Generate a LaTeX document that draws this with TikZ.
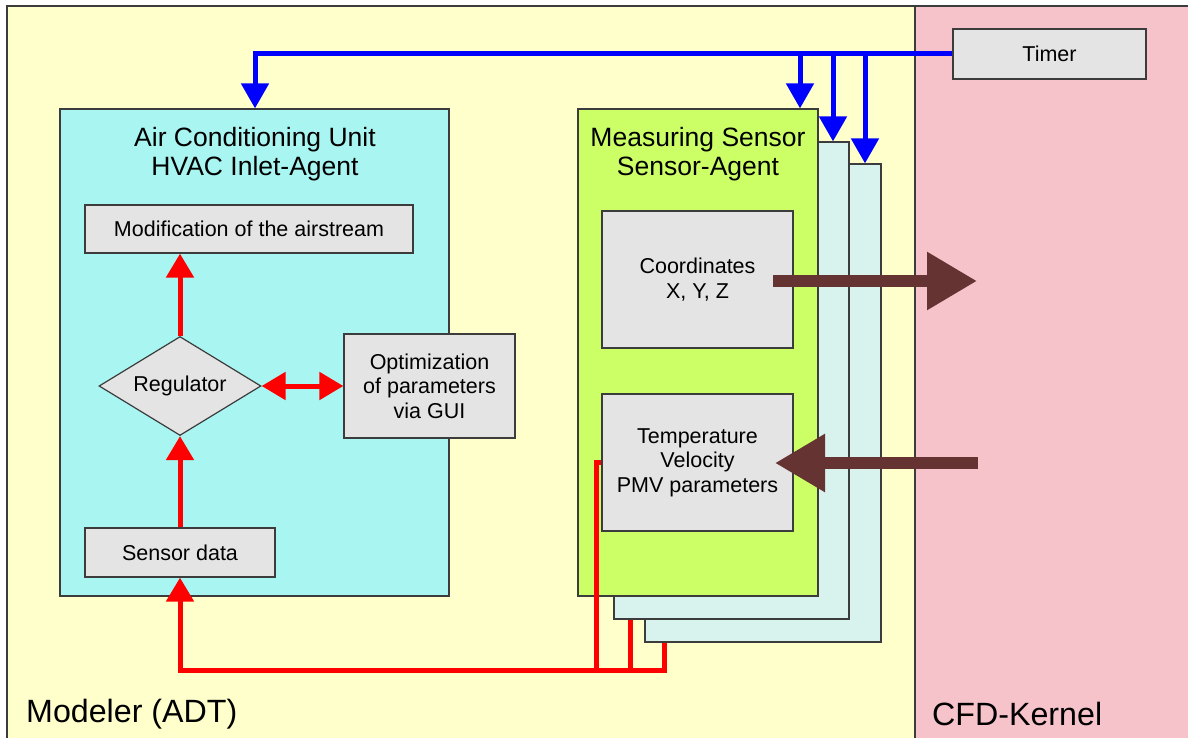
\documentclass[tikz,border=0pt]{standalone}
\usepackage{fontspec}
\setmainfont{Liberation Sans}
\usetikzlibrary{arrows.meta,shapes.geometric}
\definecolor{bgyellow}{HTML}{FFFFCC}
\definecolor{bgpink}{HTML}{F6C3CB}
\definecolor{cyanbox}{HTML}{A8F5F1}
\definecolor{greenbox}{HTML}{CCFF66}
\definecolor{palebox}{HTML}{D8F3EE}
\definecolor{graybox}{HTML}{E4E4E4}
\definecolor{brownarr}{HTML}{663333}
\definecolor{edgegray}{HTML}{3C3C3C}
\begin{document}
\begin{tikzpicture}[x=1pt,y=-1pt,
 box/.style={draw=edgegray,line width=1.2pt,fill=graybox,inner sep=0pt,align=center,font=\fontsize{21.5}{24.5}\selectfont},
 agent/.style={draw=edgegray,line width=1.2pt,inner sep=0pt},
 title/.style={align=center,inner sep=0pt,font=\fontsize{26.5}{29}\selectfont},
 biglabel/.style={anchor=west,inner sep=0pt,font=\fontsize{32.2}{35}\selectfont},
 bluearr/.style={draw=blue,line width=5pt,-{Triangle[length=25pt,width=27pt]}},
 redline/.style={draw=red,line width=5pt},
 redarr/.style={redline,-{Triangle[length=24pt,width=27pt]}},
 redtip/.tip={Triangle[length=24pt,width=27pt]},
 brownarrow/.style={draw=brownarr,line width=12pt,-{Triangle[length=50pt,width=55pt]}},
]
\useasboundingbox (0,0) rectangle (1188,738);
% background regions
\fill[bgyellow] (7,6) rectangle (915,740);
\fill[bgpink] (915,6) rectangle (1190,740);
\draw[edgegray,line width=1.5pt] (7,740) -- (7,6) -- (1190,6);
\draw[edgegray,line width=1.2pt] (915,6) -- (915,740);
\node[biglabel] (modeler) at (26,714) {Modeler (ADT)};
\node[biglabel] (cfd) at (932,714) {CFD-Kernel};

% stacked sensor agents
\node[agent,fill=palebox,minimum width=236pt,minimum height=478pt] (s3) at (763,403) {};
\node[agent,fill=palebox,minimum width=235pt,minimum height=477pt] (s2) at (731.5,380.5) {};
\node[agent,fill=greenbox,minimum width=240pt,minimum height=487pt] (green) at (698,352.5) {};
\node[title] (gtitle) at (698,154) {Measuring Sensor\\Sensor-Agent};

% HVAC agent
\node[agent,fill=cyanbox,minimum width=389pt,minimum height=487pt] (cyan) at (254.5,352.5) {};
\node[title] (ctitle) at (255,154) {Air Conditioning Unit\\HVAC Inlet-Agent};

% inner boxes
\node[box,minimum width=193pt,minimum height=50pt] (timer) at (1049.5,54) {Timer};
\node[box,minimum width=328pt,minimum height=48pt] (mod) at (249,229) {Modification of the airstream};
\node[box,shape=diamond,aspect=1.64,minimum width=162pt,minimum height=99pt] (reg) at (180,386) {Regulator};
\node[box,minimum width=171pt,minimum height=104pt] (opt) at (429.5,386) {Optimization\\of parameters\\via GUI};
\node[box,minimum width=190pt,minimum height=49pt] (sens) at (180,552.5) {Sensor data};
\node[box,minimum width=191pt,minimum height=137pt] (coord) at (697.5,279.5) {Coordinates\\X, Y, Z};
\node[box,minimum width=191pt,minimum height=137pt] (temp) at (697.5,462.5) {Temperature\\Velocity\\PMV parameters};

% timer connections
\coordinate (bj) at (255,54);
\coordinate (b1) at (800,54);
\coordinate (b2) at (833,54);
\coordinate (b3) at (865,54);
\draw[bluearr] (timer.west) -- (bj) -- (bj |- cyan.north);
\draw[bluearr] (b1) -- (b1 |- green.north);
\draw[bluearr] (b2) -- (b2 |- s2.north);
\draw[bluearr] (b3) -- (b3 |- s3.north);

% red flows
\draw[redarr] (sens.north) -- (reg.south);
\draw[redarr] (reg.north) -- (reg.north |- mod.south);
\draw[redline,redtip-redtip] (reg.east) -- (opt.west);
\coordinate (r0) at (596,670);
\coordinate (r2) at (630,670);
\coordinate (r3) at (664,670);
\draw[redarr] (temp.west) -| (r0) -| (sens.south);
\draw[redline] (s2.south -| r2) -- (r2);
\draw[redline] (s3.south -| r3) -- (r3) -- (r0);

% CFD exchange
\coordinate (c1) at (773,281);
\coordinate (c2) at (977,281);
\coordinate (t1) at (978,463);
\coordinate (t2) at (775,463);
\draw[brownarrow] (c1) -- (c2);
\draw[brownarrow] (t1) -- (t2);
\end{tikzpicture}
\end{document}
